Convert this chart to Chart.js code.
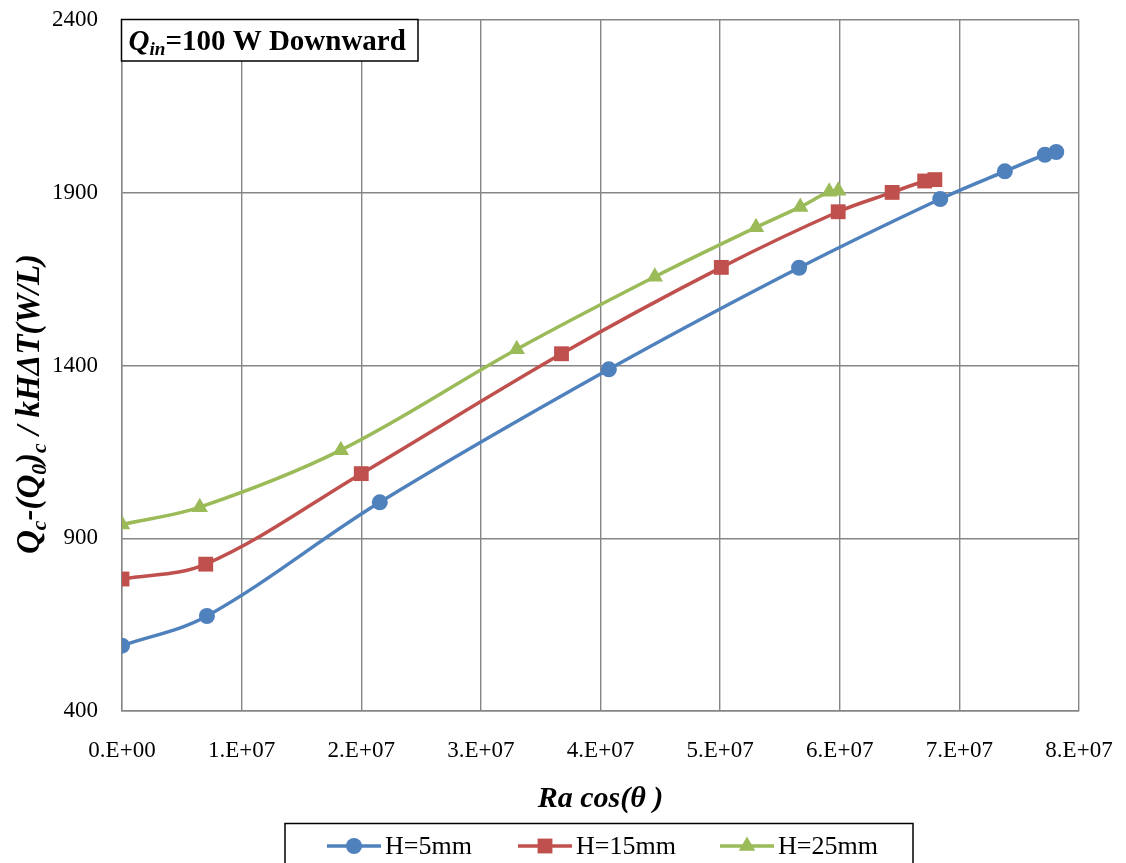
<!DOCTYPE html>
<html>
<head>
<meta charset="utf-8">
<title>Qin=100 W Downward</title>
<script src="https://cdn.jsdelivr.net/npm/chart.js@4.4.1/dist/chart.umd.min.js"></script>
<style>
  html, body { margin: 0; padding: 0; background: #ffffff; }
  #wrap { width: 1126px; height: 863px; position: relative; }
</style>
</head>
<body>
<div id="wrap"><canvas id="chart" width="1126" height="863"></canvas></div>
<script>
// Ra cos(theta) values and normalised heat transfer for each gap height
const raH5  = [0, 0.71e7, 2.155e7, 4.07e7, 5.66e7, 6.84e7, 7.38e7, 7.715e7, 7.81e7];
const qH5   = [589, 675, 1004, 1389, 1683, 1882, 1962, 2010, 2018];
const raH15 = [0, 0.70e7, 2.0e7, 3.674e7, 5.01e7, 5.987e7, 6.438e7, 6.71e7, 6.795e7];
const qH15  = [782, 825, 1087, 1434, 1684, 1845, 1901, 1934, 1938];
const raH25 = [0, 0.65e7, 1.829e7, 3.30e7, 4.454e7, 5.30e7, 5.67e7, 5.912e7, 5.987e7];
const qH25  = [940, 990, 1155, 1447, 1657, 1800, 1859, 1903, 1906];

const seriesNames = ['H=5mm', 'H=15mm', 'H=25mm'];
const xTickValues = [0, 1e7, 2e7, 3e7, 4e7, 5e7, 6e7, 7e7, 8e7];
const yTickValues = [400, 900, 1400, 1900, 2400];

const FONT = '"Liberation Serif", "Times New Roman", serif';
const COLORS = ['#4F81BD', '#C0504D', '#9BBB59'];
const STYLES = ['circle', 'rect', 'triangle'];
const RADII = [8, 10.5, 9.5];

function pairs(xs, ys) { return xs.map((x, i) => ({ x: x, y: ys[i] })); }

function sci(v) {
  if (v === 0) return '0.E+00';
  const e = Math.floor(Math.log10(Math.abs(v)) + 1e-9);
  const m = Math.round(v / Math.pow(10, e));
  return m + '.E+' + String(e).padStart(2, '0');
}

// measures / draws a list of text runs (with optional subscripts)
function runsWidth(ctx, runs, size) {
  let w = 0;
  for (const r of runs) {
    const s = r.sub ? size * 0.66 : size;
    ctx.font = (r.i ? 'italic ' : '') + (r.b ? 'bold ' : '') + s + 'px ' + FONT;
    w += ctx.measureText(r.t).width;
  }
  return w;
}
function drawRuns(ctx, runs, x, y, size) {
  let cx = x;
  ctx.textBaseline = 'alphabetic';
  ctx.textAlign = 'left';
  for (const r of runs) {
    const s = r.sub ? size * 0.66 : size;
    ctx.font = (r.i ? 'italic ' : '') + (r.b ? 'bold ' : '') + s + 'px ' + FONT;
    ctx.fillText(r.t, cx, y + (r.sub ? size * 0.2 : 0));
    cx += ctx.measureText(r.t).width;
  }
}

function marker(ctx, style, x, y, r, color) {
  ctx.save();
  ctx.fillStyle = color;
  ctx.beginPath();
  if (style === 'circle') {
    ctx.arc(x, y, r, 0, Math.PI * 2);
  } else if (style === 'rect') {
    const s = r * Math.SQRT1_2;
    ctx.rect(x - s, y - s, 2 * s, 2 * s);
  } else {
    for (let k = 0; k < 3; k++) {
      const a = -Math.PI / 2 + k * 2 * Math.PI / 3;
      const px = x + r * Math.cos(a), py = y + r * Math.sin(a);
      if (k === 0) ctx.moveTo(px, py); else ctx.lineTo(px, py);
    }
    ctx.closePath();
  }
  ctx.fill();
  ctx.restore();
}

const decorations = {
  id: 'decorations',
  afterDraw(chart) {
    const ctx = chart.ctx;
    const area = chart.chartArea;
    ctx.save();

    // heading box in the top-left corner of the plot
    const bx = 121.5, by = 19.5, bw = 296.5, bh = 41.5;
    ctx.fillStyle = '#ffffff';
    ctx.fillRect(bx, by, bw, bh);
    ctx.strokeStyle = '#000000';
    ctx.lineWidth = 1.5;
    ctx.strokeRect(bx, by, bw, bh);
    ctx.fillStyle = '#000000';
    drawRuns(ctx, [
      { t: 'Q', b: true, i: true },
      { t: 'in', b: true, i: true, sub: true },
      { t: '=100 W Downward', b: true }
    ], bx + 7, by + 30, 29);

    // x axis title
    const xt = [{ t: 'Ra cos(\u03B8 )', b: true, i: true }];
    const xs = 30;
    const xw = runsWidth(ctx, xt, xs);
    drawRuns(ctx, xt, (area.left + area.right) / 2 - xw / 2, 807, xs);

    // y axis title, rotated
    const yt = [
      { t: 'Q', b: true, i: true },
      { t: 'c', b: true, i: true, sub: true },
      { t: '-(Q', b: true, i: true },
      { t: '0', b: true, i: true, sub: true },
      { t: ')', b: true, i: true },
      { t: 'c', b: true, i: true, sub: true },
      { t: ' / kH\u0394T(W/L)', b: true, i: true }
    ];
    const ys = 33;
    const yw = runsWidth(ctx, yt, ys);
    ctx.save();
    ctx.translate(39, 404);
    ctx.rotate(-Math.PI / 2);
    drawRuns(ctx, yt, -yw / 2, 0, ys);
    ctx.restore();

    // legend box along the bottom
    ctx.strokeStyle = '#000000';
    ctx.lineWidth = 1.5;
    ctx.strokeRect(285, 823.5, 628, 50);
    const lx = [327, 518, 720];
    const ly = 846;
    chart.data.datasets.forEach((ds, i) => {
      ctx.strokeStyle = ds.borderColor;
      ctx.lineWidth = 3.5;
      ctx.beginPath();
      ctx.moveTo(lx[i], ly);
      ctx.lineTo(lx[i] + 54, ly);
      ctx.stroke();
      marker(ctx, STYLES[i], lx[i] + 27, ly, RADII[i], ds.backgroundColor);
      ctx.fillStyle = '#000000';
      ctx.font = '26px ' + FONT;
      ctx.textBaseline = 'middle';
      ctx.textAlign = 'left';
      ctx.fillText(ds.label, lx[i] + 58, ly + 1);
    });
    ctx.restore();
  }
};

const datasets = [pairs(raH5, qH5), pairs(raH15, qH15), pairs(raH25, qH25)].map((d, i) => ({
  label: seriesNames[i],
  data: d,
  showLine: true,
  borderColor: COLORS[i],
  backgroundColor: COLORS[i],
  borderWidth: 3.5,
  pointStyle: STYLES[i],
  pointRadius: RADII[i],
  pointHoverRadius: RADII[i],
  pointBorderWidth: 0,
  tension: 0.35
}));

new Chart(document.getElementById('chart'), {
  type: 'scatter',
  data: { datasets: datasets },
  options: {
    responsive: false,
    animation: false,
    events: [],
    layout: { padding: { top: 20, right: 47, left: 0, bottom: 0 } },
    plugins: {
      legend: { display: false },
      tooltip: { enabled: false },
      title: { display: false }
    },
    scales: {
      x: {
        type: 'linear',
        min: 0,
        max: 8e7,
        afterFit(scale) {
          scale.height = 863 - 711;
          scale.paddingLeft = 0;
          scale.paddingRight = 0;
        },
        afterBuildTicks(scale) { scale.ticks = xTickValues.map(v => ({ value: v })); },
        ticks: {
          callback: (v) => sci(v),
          color: '#000000',
          font: { family: FONT, size: 23 },
          padding: 26,
          maxRotation: 0,
          autoSkip: false
        },
        grid: { color: '#868686', lineWidth: 1.4, drawTicks: false },
        border: { color: '#868686', width: 1.4 }
      },
      y: {
        type: 'linear',
        min: 400,
        max: 2400,
        afterFit(scale) {
          scale.width = 122;
          scale.paddingTop = 0;
          scale.paddingBottom = 0;
        },
        afterBuildTicks(scale) { scale.ticks = yTickValues.map(v => ({ value: v })); },
        ticks: {
          callback: (v) => String(v),
          color: '#000000',
          font: { family: FONT, size: 23 },
          padding: 24
        },
        grid: { color: '#868686', lineWidth: 1.4, drawTicks: false },
        border: { color: '#868686', width: 1.4 }
      }
    }
  },
  plugins: [decorations]
});
</script>
</body>
</html>
